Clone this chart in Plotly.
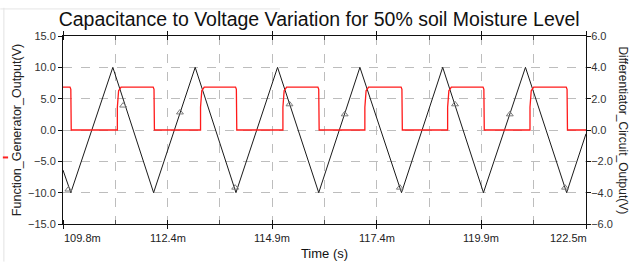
import plotly.graph_objects as go

# ---- data (time in ms) ----
tri_t = [109.8, 109.99, 111.01, 112.0, 113.01, 114.0, 115.01, 116.01, 117.01,
         118.02, 119.02, 120.01, 121.03, 122.03, 122.5]
tri_v = [-6.4, -10, 10, -10, 10, -10, 10, -10, 10, -10, 10, -10, 10, -10, -0.6]

red_t = [109.8, 109.97, 109.99, 110.0,
         111.12, 111.12, 111.15, 111.21, 111.99, 112.01, 112.02,
         113.14, 113.14, 113.17, 113.23, 113.99, 114.01, 114.02,
         115.14, 115.14, 115.17, 115.23, 115.99, 116.01, 116.02,
         117.13, 117.13, 117.16, 117.22, 118.01, 118.03, 118.04,
         119.14, 119.14, 119.17, 119.23, 120.0, 120.02, 120.03,
         121.14, 121.14, 121.17, 121.23, 122.02, 122.04, 122.05,
         122.5]
red_v = [2.74, 2.74, 2.6, 0,
         0, 1.45, 2.5, 2.74, 2.74, 2.6, 0,
         0, 1.45, 2.5, 2.74, 2.74, 2.6, 0,
         0, 1.45, 2.5, 2.74, 2.74, 2.6, 0,
         0, 1.45, 2.5, 2.74, 2.74, 2.6, 0,
         0, 1.45, 2.5, 2.74, 2.74, 2.6, 0,
         0, 1.45, 2.5, 2.74, 2.74, 2.6, 0,
         0]

mk_t = [109.93, 111.26, 112.64, 113.98, 115.30, 116.64, 117.98, 119.32, 120.65, 121.99]
mk_v = [-9.5, 3.9, 2.8, -9.2, 4.1, 2.5, -9.2, 4.1, 2.5, -9.2]

x_tick_vals = [109.8, 112.34, 114.88, 117.42, 119.96, 122.5]
x_tick_labels = ["109.8m", "112.4m", "114.9m", "117.4m", "119.9m", "122.5m"]
x_minor_vals = [111.07, 113.61, 116.15, 118.69, 121.23]

FONT = "Liberation Sans, Arial, sans-serif"

fig = go.Figure()
fig.add_trace(go.Scatter(x=red_t, y=red_v, yaxis="y2", mode="lines",
                         line=dict(color="#ff1a1a", width=1.3), hoverinfo="skip"))
fig.add_trace(go.Scatter(x=tri_t, y=tri_v, mode="lines",
                         line=dict(color="#1a1a1a", width=1), hoverinfo="skip"))
fig.add_trace(go.Scatter(x=mk_t, y=mk_v, mode="markers",
                         marker=dict(symbol="triangle-up-open", size=6,
                                     color="#7a7a7a", line=dict(width=1)),
                         hoverinfo="skip"))

fig.update_layout(
    width=632, height=269,
    margin=dict(l=63, r=46, t=36, b=38),
    paper_bgcolor="white", plot_bgcolor="white",
    showlegend=False,
    font=dict(family=FONT, color="#222", size=11),
    title=dict(text="Capacitance to Voltage Variation for 50% soil Moisture Level",
               x=0.505, xanchor="center", y=0.928, yanchor="middle",
               font=dict(size=19.5, color="#111", family=FONT)),
    xaxis=dict(range=[109.8, 122.5], tickmode="array",
               tickvals=x_tick_vals, showticklabels=False,
               ticks="outside", ticklen=4, tickcolor="#111",
               showline=True, linecolor="#111", linewidth=1, mirror="allticks",
               showgrid=True, gridcolor="#bdbdbd", griddash="dash", gridwidth=1,
               minor=dict(tickvals=x_minor_vals, ticks="inside", ticklen=4,
                          tickcolor="#555", showgrid=True, gridcolor="#bdbdbd",
                          griddash="dash"),
               zeroline=False,
               title=dict(text="Time (s)", font=dict(size=13, color="#111"), standoff=20)),
    yaxis=dict(range=[-15, 15], tickmode="array",
               tickvals=[-15, -10, -5, 0, 5, 10, 15], tickformat=".1f",
               ticks="outside", ticklen=4, tickcolor="#111",
               showline=True, linecolor="#111", linewidth=1,
               showgrid=True, gridcolor="#bdbdbd", griddash="dash", gridwidth=1,
               zeroline=False,
               title=dict(text="Function_Generator_Output(V)",
                          font=dict(size=12.5, color="#222"), standoff=3),
               tickfont=dict(size=11, color="#333")),
    yaxis2=dict(range=[-6, 6], overlaying="y", side="right", tickmode="array",
                tickvals=[-6, -4, -2, 0, 2, 4, 6], tickformat=".1f",
                ticks="outside", ticklen=4, tickcolor="#111",
                ticklabelstandoff=-2,
                showline=True, linecolor="#111", linewidth=1,
                showgrid=False, zeroline=False,
                tickfont=dict(size=11, color="#333")),
)

# x tick labels as text, first and last kept inside the axis span
n = len(x_tick_labels)
for i, (v, lab) in enumerate(zip(x_tick_vals, x_tick_labels)):
    shift = 19 if i == 0 else (-18 if i == n - 1 else 0)
    fig.add_annotation(text=lab, x=v, xref="x", y=0, yref="paper",
                       yanchor="top", xanchor="center", yshift=-6, xshift=shift,
                       showarrow=False, font=dict(size=11, color="#222", family=FONT))

fig.add_annotation(text="Differentiator_Circuit_Output(V)", textangle=90,
                   xref="paper", yref="paper", x=1.07, y=0.5,
                   xanchor="center", yanchor="middle", showarrow=False,
                   font=dict(size=12, color="#222", family=FONT))

# faint window edges and small red cursor mark at left
fig.add_shape(type="line", xref="paper", yref="paper", x0=-0.113, x1=-0.113,
              y0=-0.2, y1=1.15, line=dict(color="#e2e2e2", width=1))
fig.add_shape(type="line", xref="paper", yref="paper", x0=-0.12, x1=0.415,
              y0=1.144, y1=1.144, line=dict(color="#e6e6e6", width=1))
fig.add_shape(type="line", xref="paper", yref="paper", x0=-0.115, x1=-0.105,
              y0=0.354, y1=0.354, line=dict(color="#ff2020", width=2))

fig.write_html("out.html", config={"displayModeBar": False},
               post_script="document.body.style.margin='0';document.body.style.padding='0';")
